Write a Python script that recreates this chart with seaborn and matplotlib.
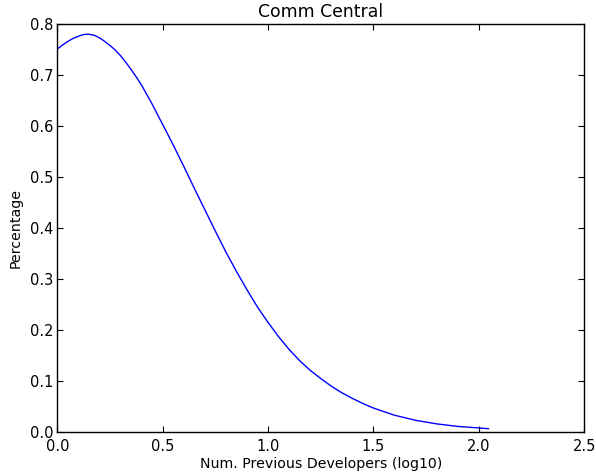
import matplotlib
matplotlib.use("Agg")
import matplotlib.pyplot as plt
import seaborn as sns
import pandas as pd

title = "Comm Central"
x_label = "Num. Previous Developers (log10)"
y_label = "Percentage"

x_vals = [0.00, 0.025, 0.05, 0.075, 0.10, 0.12, 0.136, 0.15, 0.175, 0.20, 0.225,
          0.25, 0.275, 0.30, 0.325, 0.35, 0.375, 0.40, 0.45,
          0.50, 0.55, 0.60, 0.65, 0.70, 0.75, 0.80, 0.85, 0.90, 0.95, 1.00,
          1.05, 1.10, 1.15, 1.20, 1.25, 1.30, 1.35, 1.40, 1.45, 1.50, 1.55,
          1.60, 1.70, 1.80, 1.90, 2.00, 2.047]
y_vals = [0.751, 0.759, 0.766, 0.772, 0.776, 0.779, 0.780, 0.780, 0.778, 0.773, 0.766,
          0.758, 0.749, 0.738, 0.725, 0.711, 0.696, 0.680, 0.643,
          0.603, 0.563, 0.521, 0.478, 0.436, 0.394, 0.353, 0.315, 0.279, 0.245, 0.215,
          0.187, 0.162, 0.140, 0.121, 0.105, 0.090, 0.077, 0.066, 0.056, 0.047, 0.040,
          0.033, 0.023, 0.016, 0.011, 0.008, 0.0065]

x_ticks = [0.0, 0.5, 1.0, 1.5, 2.0, 2.5]
y_ticks = [0.0, 0.1, 0.2, 0.3, 0.4, 0.5, 0.6, 0.7, 0.8]

sns.set_style("ticks")
plt.rcParams["font.family"] = ["DejaVu Sans"]
plt.rcParams["text.color"] = "black"
plt.rcParams["axes.labelcolor"] = "black"

df = pd.DataFrame({"x": x_vals, "y": y_vals})

fig = plt.figure(figsize=(5.96, 4.72), dpi=100)
ax = fig.add_axes([0.0962, 0.0847, 0.8838, 0.8643])
sns.lineplot(data=df, x="x", y="y", ax=ax, color="#0000ff", linewidth=1.0)

ax.set_xlim(0, 2.5)
ax.set_ylim(0, 0.8)
ax.set_xticks(x_ticks)
ax.set_xticklabels([f"{v:.1f}" for v in x_ticks])
ax.set_yticks(y_ticks)
ax.set_yticklabels([f"{v:.1f}" for v in y_ticks])
ax.tick_params(direction="in", length=4, width=0.8, top=True, right=True,
               labelsize=10.5, colors="black")
ax.tick_params(axis="x", pad=5)
ax.tick_params(axis="y", pad=3)
for s in ax.spines.values():
    s.set_visible(True)
    s.set_color("black")
    s.set_linewidth(1.0)
ax.set_xlabel(x_label, fontsize=10.2, labelpad=2, color="black")
ax.set_ylabel(y_label, fontsize=10.2, labelpad=5, color="black")
ax.set_title(title, fontsize=12.4, pad=5, color="black")
ax.grid(False)

fig.savefig("out.png", dpi=100)
